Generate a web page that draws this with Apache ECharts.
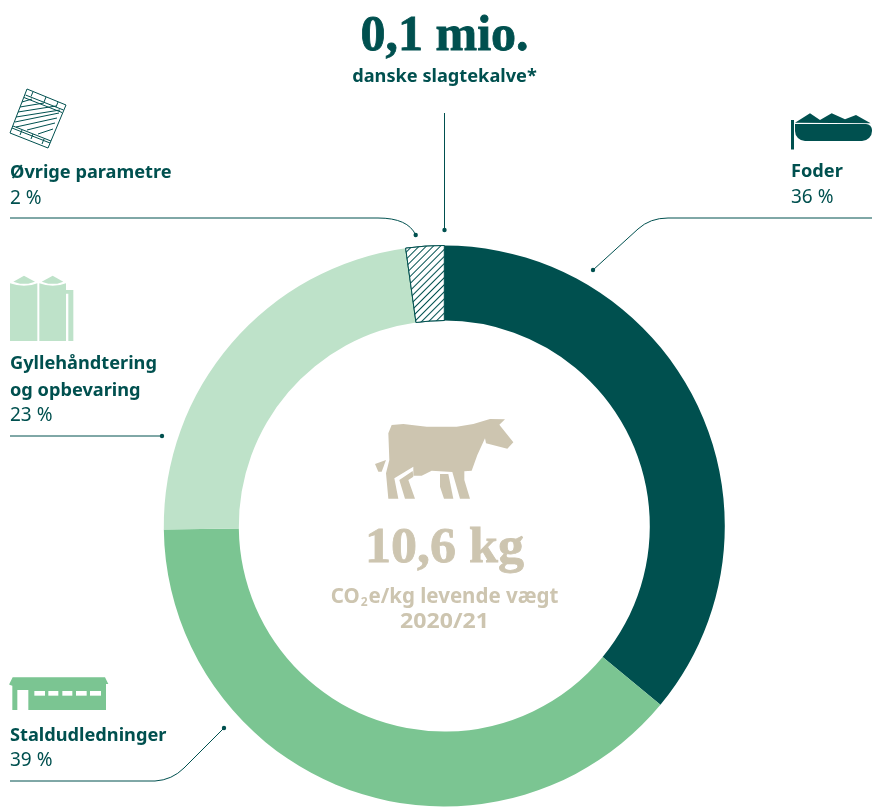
<!DOCTYPE html>
<html>
<head>
<meta charset="utf-8">
<style>html,body{margin:0;padding:0;background:#fff}#chart{width:872px;height:807px}</style>
<script src="https://cdn.jsdelivr.net/npm/echarts@6/dist/echarts.min.js"></script>
</head>
<body>
<div id="chart"></div>
<script>
const names = ["Foder", "Staldudledninger", "Gyllehåndtering og opbevaring", "Øvrige parametre"];
const shares = [36, 38.8, 23, 2.2];
const colors = ["#00504f", "#7bc592", "#bee2c9", "#ffffff"];

const DARK = "#00504f", SAND = "#cdc5b0", MID = "#7bc592", LIGHT = "#bee2c9";
const SANS = "'Noto Sans', sans-serif", SERIF = "'Liberation Serif', serif";

const txt = (x, y, text, o = {}) => ({type:"text", x, y, silent:true, scaleX:o.scaleX || 1, style:{
  text, fill:o.fill || DARK, font:`${o.weight || 700} ${o.size || 18.2}px ${o.family || SANS}`,
  stroke:o.stroke || null, lineWidth:o.stroke ? 0.8 : 0,
  textAlign:o.align || "left", textVerticalAlign:"middle"}});
const pct = (x, y, text) => txt(x, y, text, {weight:400, size:19});
const poly = (pts, fill, ox, oy) => ({type:"polygon", x:ox, y:oy, scaleX:1/3, scaleY:1/3, silent:true,
  shape:{points:pts}, style:{fill}});
const box = (x, y, w, h, fill, r) => ({type:"rect", silent:true, shape:{x, y, width:w, height:h, r:r || 0}, style:{fill}});
const dot = (x, y) => ({type:"circle", silent:true, shape:{cx:x, cy:y, r:2.2}, style:{fill:DARK}});
const seg = (x1, y1, x2, y2, w) => ({type:"line", silent:true, shape:{x1, y1, x2, y2}, style:{stroke:DARK, lineWidth:w || 1}});
const bend = (x1, y1, cx, cy, x2, y2) => ({type:"bezierCurve", silent:true, shape:{x1, y1, x2, y2, cpx1:cx, cpy1:cy}, style:{fill:null, stroke:DARK, lineWidth:1}});

// leaders
const leaders = [
  seg(444.5, 113, 444.5, 230), dot(444.5, 230),
  seg(10, 218, 378, 218), bend(378, 218, 408, 218, 415.7, 235), dot(415.7, 235),
  seg(872, 218, 668, 218), bend(668, 218, 650, 218, 638, 229), seg(638, 229, 593, 270), dot(593, 270),
  seg(10, 436, 162, 436), dot(162, 436),
  seg(10, 781, 155, 781), bend(155, 781, 172, 780, 184, 768), seg(184, 768, 224, 728), dot(224, 728)
];

// cow
const cow = [
  poly([[85,70],[95,45],[130,42],[200,50],[290,50],[340,42],[390,27],[435,28],[418,44],[460,97],[442,116],[378,100],[375,85],[352,135],[335,182],[313,184],[313,210],[330,266],[300,266],[277,186],[215,182],[185,197],[160,197],[160,170],[103,205],[115,266],[85,266],[78,190],[88,150]], SAND, 360, 410),
  poly([[118,210],[158,183],[160,200],[145,210],[165,266],[135,266]], SAND, 360, 410),
  poly([[240,192],[265,192],[280,266],[252,266],[240,230]], SAND, 360, 410),
  poly([[45,162],[78,150],[65,185],[55,185]], SAND, 360, 410)
];

// hatched square icon
const hatch = [
  {type:"polygon", silent:true, shape:{points:[[27,89],[66,105],[48,148],[10,133]]}, style:{fill:"#fff", stroke:DARK, lineWidth:1}},
  seg(25.5,95,63.5,110,1), seg(24,97.5,62,112.5,1),
  seg(13,126,51,141,1), seg(12,128,50,143,1),
  seg(33,91.8,31,96.5), seg(46,97,44,102), seg(58,102,56,107),
  seg(22,130,20,135), seg(33,134,31,139), seg(44,139,42,144)
];
[[22,102,32,99],[20,107,44,103],[18,112,56,106],[16,117,60,110],[15,122,59,113],[16,127,57,118],[27,130,55,123],[38,134,53,129]].forEach(l => hatch.push(seg(l[0], l[1], l[2], l[3])));

// silo icon
const silos = [
  poly([[30,55],[50,60],[72,62],[95,60],[112,55],[112,228],[30,228]], LIGHT, 0, 265),
  poly([[118,55],[137,60],[158,62],[180,60],[198,55],[198,228],[118,228]], LIGHT, 0, 265),
  poly([[40,50],[72,32],[105,50],[85,56],[60,56]], LIGHT, 0, 265),
  poly([[125,50],[158,32],[190,50],[172,56],[145,56]], LIGHT, 0, 265),
  poly([[198,75],[220,75],[220,228],[205,228],[205,86],[198,86]], LIGHT, 0, 265)
];

// barn icon
const barn = [
  poly([[28,42],[38,22],[315,22],[325,42],[318,42],[318,120],[85,120],[85,60],[52,60],[52,120],[37,120],[37,47],[28,44]], MID, 0, 670)
];
[[103,135],[145,175],[187,217],[228,260],[270,303]].forEach(w => barn.push(poly([[w[0],63],[w[1],63],[w[1],77],[w[0],77]], "#fff", 0, 670)));

// feed trough icon
const trough = [
  box(791, 120, 3, 29.5, DARK),
  poly([[75,68],[120,40],[150,60],[185,40],[225,58],[258,45],[302,70]], DARK, 770, 100),
  box(795, 124, 77, 17, DARK, [0,6,10,10])
];

const texts = [
  txt(444.5, 37, "0,1 mio.", {size:50, family:SERIF, align:"center", stroke:DARK}),
  txt(444.5, 77, "danske slagtekalve*", {align:"center"}),
  txt(10, 172.5, "Øvrige parametre"), pct(10, 198.5, "2 %"),
  txt(10, 363.5, "Gyllehåndtering"), txt(10, 390.5, "og opbevaring"), pct(10, 415.5, "23 %"),
  txt(791, 171.5, "Foder"), pct(791, 197.5, "36 %"),
  txt(10, 735.5, "Staldudledninger"), pct(10, 760.5, "39 %"),
  txt(444.5, 549, "10,6 kg", {size:50, family:SERIF, align:"center", fill:SAND, stroke:SAND, scaleX:1.04}),
  {type:"text", x:444.5, y:597, silent:true, style:{
    text:"{a|CO}{b|2}{a|e/kg levende vægt}", textAlign:"center", textVerticalAlign:"middle",
    rich:{a:{font:`700 20.5px ${SANS}`, fill:SAND}, b:{font:`700 12px ${SANS}`, fill:SAND, padding:[12,1,0,1]}}}},
  txt(444.5, 622, "2020/21", {size:21, align:"center", fill:SAND, scaleX:1.1})
];

const chart = echarts.init(document.getElementById("chart"));
chart.setOption({
  backgroundColor:"#fff",
  animation:false,
  series:[{
    type:"pie", silent:true, center:[444.3, 526], radius:[205.5, 280.5], startAngle:90, clockwise:true,
    label:{show:false}, labelLine:{show:false},
    data:names.map((name, i) => ({
      name, value:shares[i],
      itemStyle:i === 3
        ? {color:colors[i], borderColor:DARK, borderWidth:1,
           decal:{symbol:"rect", symbolSize:1, dashArrayX:[1,0], dashArrayY:[1,3.4], rotation:-Math.PI/4, color:DARK, backgroundColor:"#fff"}}
        : {color:colors[i]}
    }))
  }],
  graphic:{elements:[...leaders, ...cow, ...hatch, ...silos, ...barn, ...trough, ...texts]}
});
</script>
</body>
</html>
